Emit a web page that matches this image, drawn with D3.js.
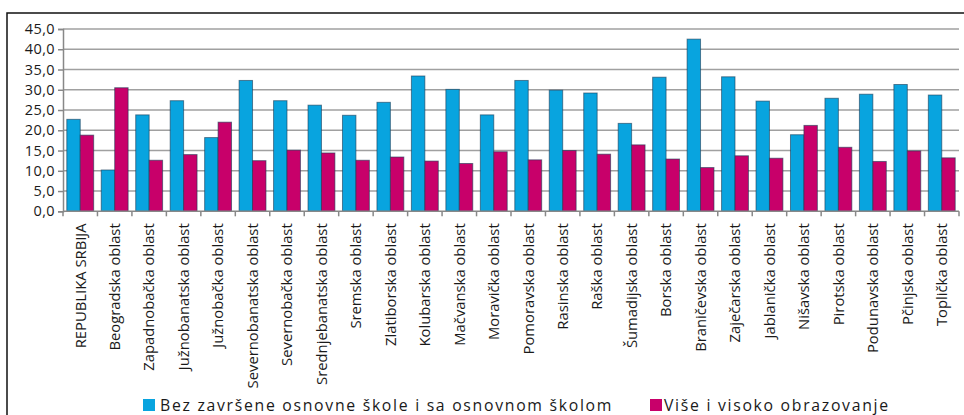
<!DOCTYPE html>
<html><head><meta charset="utf-8">
<script src="https://cdn.jsdelivr.net/npm/d3@7"></script>
<style>body{margin:0;background:#fff;} svg{display:block;}</style>
</head><body>
<svg id="c" width="964" height="415"></svg>
<script>
const categories = ["REPUBLIKA  SRBIJA","Beogradska oblast","Zapadnobačka oblast","Južnobanatska oblast","Južnobačka oblast","Severnobanatska oblast","Severnobačka oblast","Srednjebanatska oblast","Sremska oblast","Zlatiborska oblast","Kolubarska oblast","Mačvanska oblast","Moravička oblast","Pomoravska oblast","Rasinska oblast","Raška oblast","Šumadijska oblast","Borska oblast","Braničevska oblast","Zaječarska oblast","Jablanička oblast","Nišavska oblast","Pirotska oblast","Podunavska oblast","Pčinjska oblast","Toplička oblast"];
const basicEdu = [22.7,10.2,23.8,27.3,18.2,32.3,27.3,26.2,23.7,26.9,33.4,30.1,23.8,32.3,29.9,29.2,21.7,33.1,42.5,33.2,27.2,18.9,27.9,28.9,31.3,28.7];
const higherEdu = [18.8,30.5,12.6,14.0,22.0,12.5,15.1,14.4,12.6,13.4,12.4,11.8,14.7,12.7,15.0,14.1,16.4,12.9,10.8,13.7,13.1,21.2,15.8,12.3,14.9,13.2];
const seriesNames = ["Bez završene osnovne škole i sa osnovnom školom","Više i visoko obrazovanje"];
const yTicks = [0,5,10,15,20,25,30,35,40,45];
const colors = ["#08a4df","#c8006a"];

const svg = d3.select("#c");
const font = "'Open Sans', sans-serif";
// outer frame
svg.append("rect").attr("x",7).attr("y",13).attr("width",1000).attr("height",500)
  .attr("fill","none").attr("stroke","#111").attr("stroke-width",1.5);

const L=63, R=959, T=29, B=211.3;
const x = d3.scaleBand().domain(categories).range([L,R]).paddingInner(0.22).paddingOuter(0.11);
const xb = d3.scaleBand().domain(categories).range([L,R]);
const y = d3.scaleLinear().domain([0,45]).range([B,T]);
const xs = d3.scaleBand().domain([0,1]).range([0,x.bandwidth()]);

// gridlines
svg.append("g").selectAll("line").data(yTicks.slice(1)).join("line")
  .attr("x1",L).attr("x2",R).attr("y1",d=>y(d)).attr("y2",d=>y(d))
  .attr("stroke","#a0a0a0").attr("stroke-width",1.5);

// y axis
const ya = svg.append("g").attr("transform",`translate(${L},0)`)
  .call(d3.axisLeft(y).tickValues(yTicks).tickSize(5).tickPadding(3).tickFormat(d=>d3.format(".1f")(d).replace(".",",")));
ya.select(".domain").attr("stroke","#888").attr("stroke-width",1.5);
ya.selectAll(".tick line").attr("stroke","#888").attr("stroke-width",1.5);
ya.selectAll("text").attr("font-family",font).attr("font-size",14.5).attr("letter-spacing",0.4).attr("fill","#1a1a1a");

// bars
const data = categories.map((c,i)=>({c, v:[basicEdu[i],higherEdu[i]]}));
const g = svg.append("g");
data.forEach(d=>{
  d.v.forEach((v,k)=>{
    g.append("rect").attr("x",x(d.c)+xs(k)).attr("width",xs.bandwidth())
      .attr("y",y(v)).attr("height",y(0)-y(v))
      .attr("fill",colors[k]).attr("stroke","#1a3a55").attr("stroke-opacity",0.6).attr("stroke-width",1);
  });
});

// x axis
const xa = svg.append("g").attr("transform",`translate(0,${B})`);
xa.append("line").attr("x1",L).attr("x2",R).attr("stroke","#888").attr("stroke-width",1.5);
xa.selectAll("line.t").data(categories.concat(["end"])).join("line").attr("class","t")
  .attr("x1",(d,i)=>i<categories.length?xb(d):R).attr("x2",(d,i)=>i<categories.length?xb(d):R)
  .attr("y1",0).attr("y2",5).attr("stroke","#888").attr("stroke-width",1.5);
xa.selectAll("text").data(categories).join("text")
  .attr("transform",d=>`translate(${xb(d)+xb.bandwidth()/2},12) rotate(-90)`)
  .attr("text-anchor","end").attr("dy","0.36em")
  .attr("font-family",font).attr("font-size",14.8).attr("fill","#1a1a1a")
  .text(d=>d);

// legend
const lg = svg.append("g");
const sq = [143,650], tx = [160,664];
seriesNames.forEach((n,k)=>{
  lg.append("rect").attr("x",sq[k]).attr("y",399).attr("width",12).attr("height",12).attr("fill",colors[k]);
  lg.append("text").attr("x",tx[k]).attr("y",411).attr("font-family",font).attr("font-size",15.8)
    .attr("letter-spacing",1.7).attr("fill","#1a1a1a").text(n);
});
</script>
</body></html>
